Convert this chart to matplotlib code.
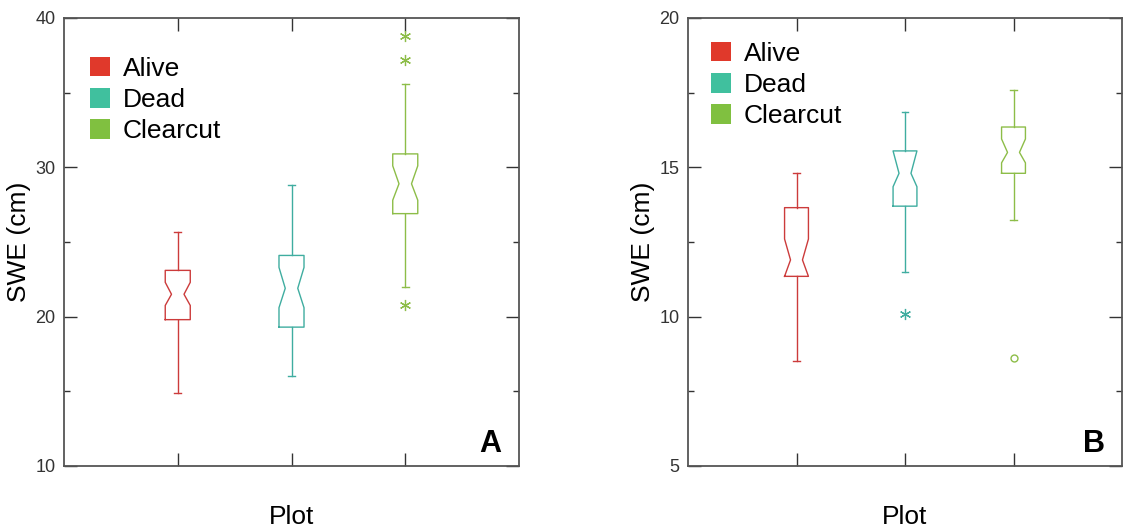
import matplotlib
matplotlib.use("Agg")
import matplotlib.pyplot as plt
from matplotlib.patches import Patch
from matplotlib.ticker import MultipleLocator

plt.rcParams["font.family"] = ["Liberation Sans", "DejaVu Sans"]

groups = ["Alive", "Dead", "Clearcut"]
legend_colors = ["#e0392b", "#40c09e", "#80c040"]
line_colors = ["#cc3b3b", "#3fada0", "#8dbd48"]

# panel A: SWE (cm)
a_whislo = [14.9, 16.0, 22.0]
a_q1 = [19.8, 19.3, 26.9]
a_med = [21.5, 21.9, 28.9]
a_q3 = [23.1, 24.1, 30.9]
a_whishi = [25.7, 28.8, 35.6]
a_cilo = [20.75, 20.6, 27.8]
a_cihi = [22.3, 23.3, 30.1]
a_fliers = [[], [], [38.8, 37.2, 20.8]]
a_flier_marker = ["*", "*", "*"]

# panel B: SWE (cm)
b_whislo = [8.5, 11.5, 13.25]
b_q1 = [11.35, 13.7, 14.8]
b_med = [11.9, 14.8, 15.5]
b_q3 = [13.65, 15.55, 16.35]
b_whishi = [14.8, 16.85, 17.6]
b_cilo = [11.35, 14.35, 15.15]
b_cihi = [12.6, 15.55, 15.95]
b_fliers = [[], [10.08], [8.62]]
b_flier_marker = ["*", "*", "o"]

fig = plt.figure(figsize=(11.45, 5.29), dpi=100)
W, H = 1145, 529


def panel(rect, ylim, ymajor, whislo, q1, med, q3, whishi, cilo, cihi,
          fliers, markers, letter, leg_anchor):
    ax = fig.add_axes(rect)
    for i in range(3):
        st = dict(whislo=whislo[i], q1=q1[i], med=med[i], q3=q3[i],
                  whishi=whishi[i], cilo=cilo[i], cihi=cihi[i],
                  fliers=fliers[i])
        c = line_colors[i]
        if markers[i] == "*":
            fp = dict(marker=(6, 2, 0), markersize=8, markeredgecolor=c,
                      markeredgewidth=0.9, linestyle="none")
        else:
            fp = dict(marker="o", markersize=5, markerfacecolor="none",
                      markeredgecolor=c, markeredgewidth=1.0, linestyle="none")
        ax.bxp([st], positions=[i + 1], widths=0.22, capwidths=0.06,
               shownotches=True, showfliers=True,
               boxprops=dict(color=c, linewidth=1.0),
               whiskerprops=dict(color=c, linewidth=1.0),
               capprops=dict(color=c, linewidth=1.0),
               medianprops=dict(linewidth=0),
               flierprops=fp)
    ax.set_xlim(0, 4)
    ax.set_ylim(*ylim)
    ax.set_xticks([1, 2, 3])
    ax.set_xticklabels([])
    ax.yaxis.set_major_locator(MultipleLocator(ymajor))
    ax.yaxis.set_minor_locator(MultipleLocator(ymajor / 2))
    ax.tick_params(which="major", direction="in", length=9.5, width=1.0,
                   color="#333333", top=True, right=True,
                   labelsize=13, labelcolor="#333333", pad=6)
    ax.tick_params(which="minor", direction="in", length=4.5, width=1.0,
                   color="#333333", left=True, right=True)
    for s in ax.spines.values():
        s.set_color("#555555")
        s.set_linewidth(1.3)
    ax.set_ylabel("SWE (cm)", fontsize=19, labelpad=3)
    ax.set_xlabel("Plot", fontsize=19, labelpad=22)
    ax.text(0.96, 0.015, letter, transform=ax.transAxes, ha="right",
            va="bottom", fontsize=22, fontweight="bold")
    handles = [Patch(facecolor=legend_colors[i], edgecolor="none")
               for i in range(3)]
    ax.legend(handles, groups, loc="upper left", bbox_to_anchor=leg_anchor,
              frameon=False, fontsize=19, handlelength=0.75,
              handleheight=0.75, handletextpad=0.5, labelspacing=0.27,
              borderpad=0, borderaxespad=0)
    return ax


bottom = (H - 466) / H
height = (466 - 18) / H
panel([64 / W, bottom, (519 - 64) / W, height], (10, 40), 10,
      a_whislo, a_q1, a_med, a_q3, a_whishi, a_cilo, a_cihi,
      a_fliers, a_flier_marker, "A", (26 / 455, 1 - 39 / 448))
panel([688 / W, bottom, (1122 - 688) / W, height], (5, 20), 5,
      b_whislo, b_q1, b_med, b_q3, b_whishi, b_cilo, b_cihi,
      b_fliers, b_flier_marker, "B", (23 / 434, 1 - 24 / 448))

fig.savefig("out.png", dpi=100)
